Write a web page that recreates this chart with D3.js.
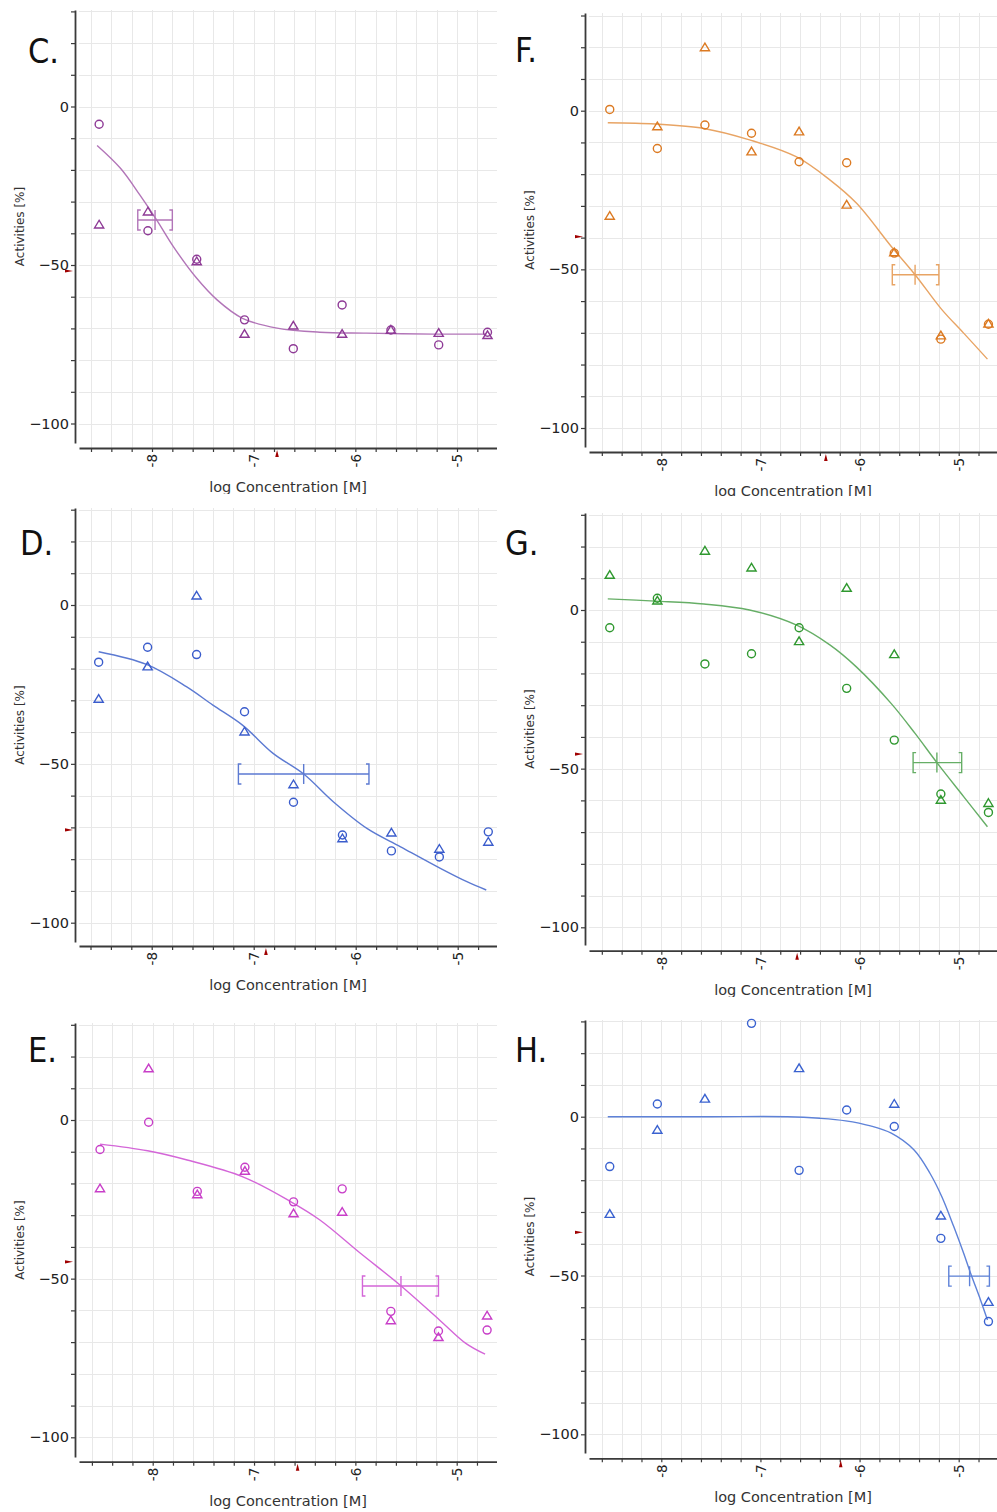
<!DOCTYPE html>
<meta charset="utf-8">
<style>
body { margin: 0; background: #fff; }
text { font-family: "DejaVu Sans", sans-serif; fill: #222; }
.grid line { stroke: #e8e8e8; stroke-width: 1; shape-rendering: crispEdges; }
.axis path, .axis line { stroke: #3a3a3a; fill: none; }
.axis path { stroke-width: 1.8; }
.axis line { stroke-width: 1.2; }
.ylab { font-size: 14.5px; }
.xtick { font-size: 13.5px; }
.xtitle { font-size: 14.5px; fill: #333; }
.ytitle { font-size: 12px; fill: #333; }
.panel-label { font-family: "DejaVu Sans Condensed", "DejaVu Sans", sans-serif; font-stretch: condensed; font-size: 34px; fill: #111; }
</style>
<body>
<script src="https://d3js.org/d3.v7.min.js"></script>
<script>
// log concentrations (3-fold dilution from 20 uM)
var logConc = [-8.52, -8.04, -7.56, -7.09, -6.61, -6.13, -5.65, -5.18, -4.70];
var panelLabels = ["C.", "D.", "E.", "F.", "G.", "H."];

// replicate 1 (circles) and replicate 2 (triangles), activity %
var circlesC   = [-5.6, -39.2, -48.2, -67.3, -76.4, -62.6, -70.5, -75.2, -71.2];
var trianglesC = [-37.3, -33.2, -48.9, -71.8, -69.2, -71.8, -70.5, -71.5, -72.2];
var circlesD   = [-18.0, -13.3, -15.6, -33.6, -62.1, -72.4, -77.4, -79.3, -71.4];
var trianglesD = [-29.6, -19.4, 2.9, -39.9, -56.5, -73.5, -71.7, -76.8, -74.6];
var circlesE   = [-9.3, -0.7, -22.5, -14.9, -25.8, -21.7, -60.3, -66.5, -66.2];
var trianglesE = [-21.6, 16.2, -23.5, -16.1, -29.5, -29.0, -63.2, -68.5, -61.7];
var circlesF   = [0.4, -11.9, -4.5, -7.1, -16.1, -16.4, -44.9, -72.0, -67.3];
var trianglesF = [-33.2, -5.0, 19.9, -12.9, -6.6, -29.7, -44.7, -70.9, -67.2];
var circlesG   = [-5.6, 3.7, -17.0, -13.8, -5.6, -24.7, -41.0, -58.0, -63.8];
var trianglesG = [11.0, 2.9, 18.6, 13.3, -9.9, 6.9, -14.0, -59.9, -60.9];
var circlesH   = [-15.7, 4.0, null, 29.4, -16.9, 2.1, -3.1, -38.3, -64.5];
var trianglesH = [-30.7, -4.2, 5.6, null, 15.2, null, 4.0, -31.2, -58.4];

// fitted curves
var curveXC = [-8.54, -8.31, -8.12, -7.95, -7.79, -7.56, -7.36, -7.11, -6.77, -6.35, -5.89, -5.23, -4.71];
var curveYC = [-12.3, -19.5, -27.9, -36.0, -44.2, -54.2, -61.0, -66.8, -69.9, -71.2, -71.5, -71.8, -71.8];
var curveXD = [-8.52, -8.05, -7.66, -7.40, -7.11, -6.81, -6.51, -6.22, -5.89, -5.56, -5.17, -4.91, -4.72];
var curveYD = [-14.7, -18.7, -25.7, -31.5, -37.8, -46.7, -53.2, -61.9, -70.3, -76.1, -82.9, -87.1, -89.7];
var curveXE = [-8.52, -8.05, -7.66, -7.11, -6.64, -6.35, -5.95, -5.56, -5.17, -4.91, -4.72];
var curveYE = [-7.6, -9.7, -12.6, -17.9, -25.7, -31.5, -42.0, -52.0, -63.0, -70.4, -73.8];
var curveXF = [-8.54, -8.06, -7.57, -7.11, -6.64, -6.30, -6.03, -5.68, -5.44, -5.17, -4.95, -4.71];
var curveYF = [-3.8, -4.2, -5.6, -9.2, -14.5, -21.8, -29.2, -42.8, -51.7, -62.7, -70.1, -78.3];
var curveXG = [-8.54, -8.06, -7.57, -7.11, -6.64, -6.30, -6.03, -5.68, -5.44, -5.22, -4.95, -4.71];
var curveYG = [3.5, 2.8, 1.9, 0, -4.7, -11.0, -18.0, -29.5, -38.9, -48.1, -58.8, -68.3];
var curveXH = [-8.54, -7.50, -6.73, -6.40, -6.14, -5.89, -5.68, -5.45, -5.29, -5.17, -5.05, -4.95, -4.88, -4.78, -4.71];
var curveYH = [0, 0, 0, -0.5, -1.3, -2.9, -5.2, -10.5, -17.8, -25.2, -34.6, -43.0, -49.3, -57.7, -64.0];

// IC50 with confidence range: [center, low, high, activity]
var ic50C = [-7.97, -8.14, -7.80, -35.8];
var ic50D = [-6.51, -7.15, -5.87, -53.2];
var ic50E = [-5.55, -5.93, -5.18, -52.3];
var ic50F = [-5.44, -5.67, -5.20, -51.7];
var ic50G = [-5.22, -5.46, -4.97, -48.1];
var ic50H = [-4.89, -5.10, -4.69, -50.2];

// small red axis markers (C, D, E, F, G, H)
var refMarkX = [-6.77, -6.88, -6.57, -6.34, -6.63, -6.19];
var refMarkY = [-51.9, -70.8, -44.7, -39.7, -45.4, -36.4];

var series = [
    {circles: circlesC, triangles: trianglesC, cx: curveXC, cy: curveYC, ic50: ic50C},
    {circles: circlesD, triangles: trianglesD, cx: curveXD, cy: curveYD, ic50: ic50D},
    {circles: circlesE, triangles: trianglesE, cx: curveXE, cy: curveYE, ic50: ic50E},
    {circles: circlesF, triangles: trianglesF, cx: curveXF, cy: curveYF, ic50: ic50F},
    {circles: circlesG, triangles: trianglesG, cx: curveXG, cy: curveYG, ic50: ic50G},
    {circles: circlesH, triangles: trianglesH, cx: curveXH, cy: curveYH, ic50: ic50H}
];

// panel placement on the page
var layout = [
    {left: 75,  top: 10,   bottom: 443,  xAxisY: 448,    y0: 106.5,  y100: 423.5,  xm8: 152,   xm5: 457,   right: 497, lab: [28, 63],    clip: [0, 0, 497, 494]},
    {left: 75,  top: 508,  bottom: 942,  xAxisY: 946,    y0: 605,    y100: 922.7,  xm8: 151.7, xm5: 457.7, right: 497, lab: [20, 555],   clip: [0, 500, 497, 496]},
    {left: 75,  top: 1023, bottom: 1457, xAxisY: 1461.7, y0: 1120,   y100: 1437.3, xm8: 152.7, xm5: 456.7, right: 497, lab: [28, 1062],  clip: [0, 1000, 497, 509]},
    {left: 585, top: 13,   bottom: 447,  xAxisY: 452,    y0: 110.7,  y100: 428,    xm8: 661.3, xm5: 958.7, right: 997, lab: [515, 62],   clip: [497, 0, 500, 496]},
    {left: 585, top: 513,  bottom: 945,  xAxisY: 950.7,  y0: 610,    y100: 927.3,  xm8: 661.3, xm5: 958.7, right: 997, lab: [505, 555],  clip: [497, 500, 500, 497]},
    {left: 585, top: 1020, bottom: 1453, xAxisY: 1458.3, y0: 1116.7, y100: 1434.3, xm8: 661.3, xm5: 958.7, right: 997, lab: [515, 1062], clip: [497, 1000, 500, 512]}
];

var colors = [
    {mark: "#8e3a96", line: "#b275b8"},
    {mark: "#3a5ccc", line: "#5c7ad2"},
    {mark: "#c83ec8", line: "#d466d8"},
    {mark: "#dc7a22", line: "#e8a464"},
    {mark: "#2f982f", line: "#66ae66"},
    {mark: "#3a62d0", line: "#5e82d8"}
];

var svg = d3.select("body").append("svg")
    .attr("width", 997)
    .attr("height", 1512);
var defs = svg.append("defs");

var triPath = "M0,-4.5L4.6,3.2L-4.6,3.2Z";

layout.forEach(function(p, i) {
    var s = series[i], col = colors[i];

    defs.append("clipPath").attr("id", "clip" + i)
      .append("rect")
        .attr("x", p.clip[0]).attr("y", p.clip[1])
        .attr("width", p.clip[2]).attr("height", p.clip[3]);

    var g = svg.append("g").attr("clip-path", "url(#clip" + i + ")");

    var x = d3.scaleLinear().domain([-8, -5]).range([p.xm8, p.xm5]);
    x.domain([x.invert(p.left + 4), x.invert(p.right)]).range([p.left + 4, p.right]);
    var y = d3.scaleLinear().domain([0, -100]).range([p.y0, p.y100]);
    y.domain([y.invert(p.bottom), y.invert(p.top)]).range([p.bottom, p.top]);

    var xTicks = d3.range(-86, -44, 2).map(function(d) { return d / 10; })
        .filter(function(d) { return x(d) >= p.left + 4 && x(d) <= p.right; });
    var yTicks = d3.range(-100, 31, 10)
        .filter(function(d) { return y(d) >= p.top - 0.5 && y(d) <= p.bottom; });

    // grid
    var grid = g.append("g").attr("class", "grid");
    grid.selectAll(".gx").data(xTicks).enter().append("line")
        .attr("x1", function(d) { return Math.round(x(d)) + 0.5; })
        .attr("x2", function(d) { return Math.round(x(d)) + 0.5; })
        .attr("y1", p.top).attr("y2", p.xAxisY);
    grid.selectAll(".gy").data(yTicks).enter().append("line")
        .attr("x1", p.left + 4).attr("x2", p.right)
        .attr("y1", function(d) { return Math.round(y(d)) + 0.5; })
        .attr("y2", function(d) { return Math.round(y(d)) + 0.5; });

    // y axis
    var ya = g.append("g").attr("class", "axis")
        .attr("transform", "translate(" + p.left + ",0)")
        .call(d3.axisLeft(y).tickValues(yTicks).tickSize(4).tickSizeOuter(0)
            .tickFormat(function(d) { return d % 50 === 0 ? d3.format("d")(d) : ""; }));
    ya.attr("font-family", null).attr("font-size", null);
    ya.selectAll("text").attr("class", "ylab").attr("x", -6);

    // x axis
    var xa = g.append("g").attr("class", "axis")
        .attr("transform", "translate(0," + p.xAxisY + ")")
        .call(d3.axisBottom(x).tickValues(xTicks).tickSize(4).tickSizeOuter(0)
            .tickFormat(function(d) {
                return Math.abs(d - Math.round(d)) < 1e-6 ? String(Math.round(d)) : "";
            }));
    xa.attr("font-family", null).attr("font-size", null);
    xa.selectAll("text").attr("class", "xtick")
        .attr("transform", "rotate(-90)")
        .attr("text-anchor", "end")
        .attr("x", -6).attr("y", 0).attr("dy", "0.35em");

    // red markers on the axes
    g.append("path")
        .attr("d", "M" + (p.left - 10) + "," + (y(refMarkY[i]) - 1.6) +
                   "L" + (p.left - 2) + "," + y(refMarkY[i]) +
                   "L" + (p.left - 10) + "," + (y(refMarkY[i]) + 1.6) + "Z")
        .attr("fill", "#a00000");
    g.append("path")
        .attr("d", "M" + (x(refMarkX[i]) - 1.8) + "," + (p.xAxisY + 9) +
                   "L" + x(refMarkX[i]) + "," + (p.xAxisY + 2) +
                   "L" + (x(refMarkX[i]) + 1.8) + "," + (p.xAxisY + 9) + "Z")
        .attr("fill", "#a00000");

    // axis titles
    g.append("text").attr("class", "xtitle")
        .attr("x", (p.left + 4 + p.right) / 2)
        .attr("y", p.xAxisY + 44)
        .attr("text-anchor", "middle")
        .text("log Concentration [M]");
    g.append("text").attr("class", "ytitle")
        .attr("transform", "translate(" + (p.left - 51) + "," + ((p.top + p.bottom) / 2) + ") rotate(-90)")
        .attr("text-anchor", "middle")
        .text("Activities [%]");

    // fitted curve
    var pts = s.cx.map(function(v, j) { return [v, s.cy[j]]; });
    g.append("path")
        .attr("d", d3.line()
            .x(function(d) { return x(d[0]); })
            .y(function(d) { return y(d[1]); })
            .curve(d3.curveCatmullRom.alpha(0.5))(pts))
        .attr("fill", "none")
        .attr("stroke", col.line)
        .attr("stroke-width", 1.4);

    // IC50 bar
    var c = s.ic50, cy = y(c[3]), h = 10;
    var lo = x(c[1]), hi = x(c[2]), mid = x(c[0]);
    g.append("path")
        .attr("d",
            "M" + lo + "," + cy + "H" + hi +
            "M" + (lo + 3) + "," + (cy - h) + "H" + lo + "V" + (cy + h) + "H" + (lo + 3) +
            "M" + (hi - 3) + "," + (cy - h) + "H" + hi + "V" + (cy + h) + "H" + (hi - 3) +
            "M" + mid + "," + (cy - h) + "V" + (cy + h))
        .attr("fill", "none")
        .attr("stroke", col.line)
        .attr("stroke-width", 1.4);

    // points
    var circ = logConc.map(function(v, j) { return [v, s.circles[j]]; })
        .filter(function(d) { return d[1] != null; });
    var tri = logConc.map(function(v, j) { return [v, s.triangles[j]]; })
        .filter(function(d) { return d[1] != null; });

    g.selectAll(".tri").data(tri).enter().append("path")
        .attr("d", triPath)
        .attr("transform", function(d) { return "translate(" + x(d[0]) + "," + y(d[1]) + ")"; })
        .attr("fill", "none")
        .attr("stroke", col.mark)
        .attr("stroke-width", 1.4);
    g.selectAll(".circ").data(circ).enter().append("circle")
        .attr("cx", function(d) { return x(d[0]); })
        .attr("cy", function(d) { return y(d[1]); })
        .attr("r", 4)
        .attr("fill", "none")
        .attr("stroke", col.mark)
        .attr("stroke-width", 1.4);

    // panel letter
    svg.append("text").attr("class", "panel-label")
        .attr("x", p.lab[0]).attr("y", p.lab[1])
        .text(panelLabels[i]);
});
</script>
</body>
